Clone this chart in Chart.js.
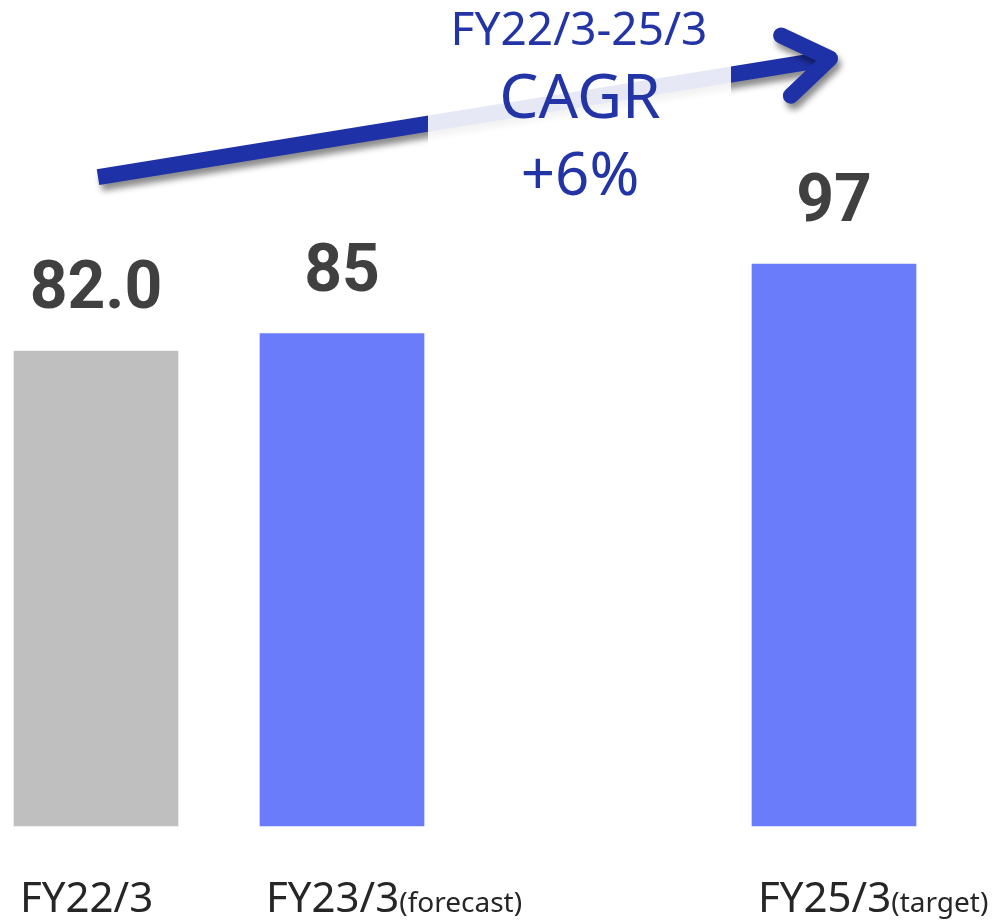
<!DOCTYPE html>
<html>
<head>
<meta charset="utf-8">
<script src="https://cdn.jsdelivr.net/npm/chart.js@4.4.0/dist/chart.umd.min.js"></script>
<style>
  html, body { margin: 0; padding: 0; background: #fff; }
  #wrap { width: 1007px; height: 920px; }
</style>
</head>
<body>
<div id="wrap"><canvas id="sales-chart"></canvas></div>
<script>
const categories = ['FY22/3', 'FY23/3', 'FY24/3', 'FY25/3'];
const categoryNotes = ['', '(forecast)', '', '(target)'];
const values = [82.0, 85, null, 97];
const valueLabels = ['82.0', '85', null, '97'];
const barColors = ['#bfbfbf', '#6b7cfb', '#6b7cfb', '#6b7cfb'];
const cagrLines = ['FY22/3-25/3', 'CAGR', '+6%'];

// value labels above bars + category labels under them
const barLabels = {
    id: 'barLabels',
    afterDatasetsDraw(chart) {
        const ctx = chart.ctx;
        const meta = chart.getDatasetMeta(0);
        ctx.save();
        meta.data.forEach(function (bar, i) {
            if (values[i] == null) return;
            ctx.fillStyle = '#404040';
            ctx.font = 'bold 66px Roboto';
            ctx.textAlign = 'center';
            ctx.textBaseline = 'alphabetic';
            ctx.fillText(valueLabels[i], bar.x, bar.y - 43);

            const tx = bar.x - bar.width / 2 + 6;
            ctx.textAlign = 'left';
            ctx.fillStyle = '#262626';
            ctx.font = '42px "Noto Sans"';
            ctx.fillText(categories[i], tx, 912);
            const w = ctx.measureText(categories[i]).width;
            if (categoryNotes[i]) {
                ctx.font = '28px "Noto Sans"';
                ctx.fillText(categoryNotes[i], tx + w, 912);
            }
        });
        ctx.restore();
    }
};

// growth arrow with the CAGR note
const cagrArrow = {
    id: 'cagrArrow',
    afterDraw(chart) {
        const ctx = chart.ctx;
        const x = chart.scales.x, y = chart.scales.y;
        const x0 = x.getPixelForValue(0) + 2, y0 = y.getPixelForValue(112);
        const x1 = x.getPixelForValue(3) - 4, y1 = y.getPixelForValue(132.5);
        const ang = Math.atan2(y1 - y0, x1 - x0);

        ctx.save();
        ctx.strokeStyle = '#1f31a7';
        ctx.lineWidth = 16;
        ctx.shadowColor = 'rgba(0,0,0,0.45)';
        ctx.shadowBlur = 6;
        ctx.shadowOffsetX = 3;
        ctx.shadowOffsetY = 6;
        ctx.beginPath();
        ctx.moveTo(x0, y0);
        ctx.lineTo(x1 - 10 * Math.cos(ang), y1 - 10 * Math.sin(ang));
        ctx.stroke();
        ctx.lineCap = 'round';
        ctx.lineJoin = 'round';
        ctx.beginPath();
        const hl = 54;
        ctx.moveTo(x1 - hl * Math.cos(ang - 0.6), y1 - hl * Math.sin(ang - 0.6));
        ctx.lineTo(x1, y1);
        ctx.lineTo(x1 - hl * Math.cos(ang + 0.6), y1 - hl * Math.sin(ang + 0.6));
        ctx.stroke();
        ctx.restore();

        // translucent text box
        ctx.save();
        ctx.fillStyle = 'rgba(255,255,255,0.89)';
        ctx.fillRect(428, 0, 303, 205);
        ctx.fillStyle = '#2335a6';
        ctx.textAlign = 'center';
        ctx.font = '46px "Noto Sans"';
        ctx.fillText(cagrLines[0], 579, 45);
        ctx.font = '62px "Noto Sans"';
        ctx.fillText(cagrLines[1], 580, 118);
        ctx.font = '60px "Noto Sans"';
        ctx.fillText(cagrLines[2], 580, 195);
        ctx.restore();
    }
};

const ctx = document.getElementById('sales-chart').getContext('2d');
const salesChart = new Chart(ctx, {
    type: 'bar',
    data: {
        labels: categories,
        datasets: [{
            data: values,
            backgroundColor: barColors,
            borderWidth: 0,
            barThickness: 164,
            clip: false
        }]
    },
    options: {
        responsive: true,
        maintainAspectRatio: false,
        animation: false,
        layout: {
            padding: { left: 96, right: 173, top: 15, bottom: 94 }
        },
        plugins: {
            legend: { display: false },
            tooltip: { enabled: false }
        },
        scales: {
            x: { display: false, offset: false, grid: { offset: false } },
            y: { display: false, min: 0, max: 140 }
        }
    },
    plugins: [barLabels, cagrArrow]
});
</script>
</body>
</html>
